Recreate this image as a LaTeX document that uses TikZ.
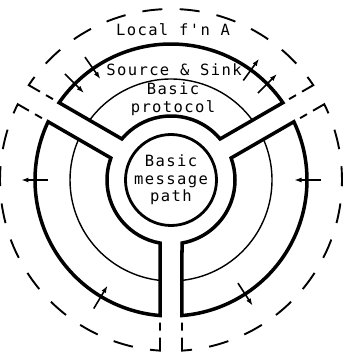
\documentclass[tikz,border=0pt]{standalone}
\usepackage{fontspec}
\setmonofont{DejaVu Sans Mono}[LetterSpace=9]
\usetikzlibrary{arrows.meta}

\begin{document}
\begin{tikzpicture}[x=1pt,y=1pt,
  every node/.style={font=\ttfamily\fontsize{15.5}{17.5}\selectfont, align=center, inner sep=0pt},
  sector/.style={line width=3.5pt, line join=miter},
  midring/.style={line width=1.4pt},
  localfn/.style={line width=1.9pt, dash pattern=on 20pt off 17.3pt on 20pt off 17.3pt
    on 20pt off 17.3pt on 20pt off 17.4pt on 23pt off 7pt on 8pt off 30pt, dash phase=208.6pt},
  flow/.style={line width=1.6pt, -{Latex[length=7.5pt,width=5pt]}}
]
\def\rin{64}\def\rmid{101}\def\rout{136}\def\rloc{171}\def\half{11}
\useasboundingbox (-171,-178) rectangle (172,180);
% ---- sectors between the three gaps (30, 150, 270 deg) ----
\foreach \a/\b in {30/150, 150/270, 270/390} {
  \pgfmathsetmacro\din{asin(\half/\rin)}
  \pgfmathsetmacro\dmid{asin(\half/\rmid)}
  \pgfmathsetmacro\dout{asin(\half/\rout)}
  \pgfmathsetmacro\dloc{asin(\half/\rloc)}
  \pgfmathsetmacro\m{(\a+\b)/2}
  \draw[sector] ({\b-\dout}:\rout)
    arc[start angle=\b-\dout, end angle=\a+\dout, radius=\rout]
    -- ({\a+\din}:\rin)
    arc[start angle=\a+\din, end angle=\b-\din, radius=\rin] -- cycle;
  \draw[midring] ({\b-\dmid}:\rmid)
    arc[start angle=\b-\dmid, end angle=\a+\dmid, radius=\rmid];
  % local function boundary, drawn from the middle out to both gaps
  \draw[localfn] (\m:\rloc)
    arc[start angle=\m, end angle=\b-\dloc, radius=\rloc] -- ({\b-\dout}:\rout);
  \draw[localfn] (\m:\rloc)
    arc[start angle=\m, end angle=\a+\dloc, radius=\rloc] -- ({\a+\dout}:\rout);
}
% ---- message path ----
\node[draw, circle, line width=2.8pt, minimum size=91pt] (msg) at (0,0)
  {Basic\\message\\path};
% ---- labels ----
\node (localA) at (2,150) {Local f'n A};
\node (srcsink) at (3,110) {Source \& Sink};
\node (proto) at (2,81) {Basic\\protocol};
% ---- flows across the outer ring ----
\foreach \ang [count=\i] in {125,135,0,239} {
  \coordinate (inA\i) at (\ang:150);
  \coordinate (inB\i) at (\ang:123);
  \draw[flow] (inA\i) -- (inB\i);
}
\foreach \ang [count=\i] in {54,45,180,303} {
  \coordinate (outA\i) at (\ang:123);
  \coordinate (outB\i) at (\ang:150);
  \draw[flow] (outA\i) -- (outB\i);
}
\end{tikzpicture}
\end{document}
